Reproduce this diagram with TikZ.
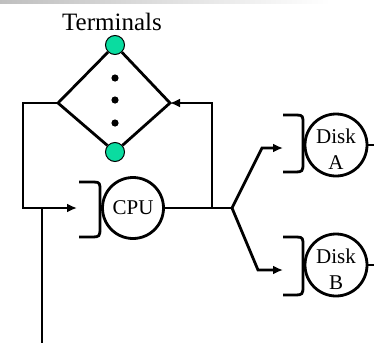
\documentclass[tikz,border=0pt]{standalone}
\usepackage{fontspec}
\setmainfont{Liberation Serif}
\usepackage{tikz}
\usetikzlibrary{arrows.meta}

\definecolor{termgreen}{RGB}{10,220,160}

\begin{document}
\begin{tikzpicture}[x=1pt,y=-1pt,line width=2.8pt,
		>={Latex[length=10pt,width=9pt]},
		term/.style={circle, draw, fill=termgreen, line width=1pt, minimum size=19pt, inner sep=0pt},
		server/.style={circle, draw, minimum size=62pt, inner sep=0pt},
		lbl/.style={font=\fontsize{21}{26}\selectfont, align=center, inner sep=0pt}]
			\useasboundingbox (0,0) rectangle (374,343);
			\shade[left color=black!25, right color=white, draw=none] (0,0) rectangle (330,3);
			% terminals
			\node[font=\fontsize{25}{29}\selectfont, anchor=base] (termtxt) at (112,30) {Terminals};
			\coordinate (dl) at (58,103);
			\coordinate (dr) at (170,103);
			\node[term] (termtop) at (115,45) {};
			\node[term] (termbot) at (115,152) {};
			\draw (termtop) -- (dl) -- (termbot);
			\draw (termtop) -- (dr) -- (termbot);
			\fill (115,78) circle(3.6);
			\fill (115,100) circle(3.6);
			\fill (115,123) circle(3.6);
			% cpu
			\node[server, minimum size=61pt] (cpu) at (133,208) {};
			\node[lbl] (cputxt) at (cpu) {CPU};
			\draw (79,182) -- (94,182) .. controls (100,182) and (100,184) .. (100,190) -- (100,229) .. controls (100,236) and (99,237) .. (93,237) -- (79,237);
			% disks
			\node[server] (diska) at (336,145) {};
			\node[lbl, yshift=-4pt] (diskatxt) at (diska) {Disk\\A};
			\node[server] (diskb) at (336,265) {};
			\node[lbl, yshift=-4pt] (diskbtxt) at (diskb) {Disk\\B};
			\draw (283,115) -- (297,115) .. controls (303,115) and (303,117) .. (303,123) -- (303,164) .. controls (303,171) and (302,172) .. (296,172) -- (283,172);
			\draw (283,237) -- (297,237) .. controls (303,237) and (303,239) .. (303,245) -- (303,287) .. controls (303,294) and (302,295) .. (296,295) -- (283,295);
			% connectors
			\coordinate (split) at (232,208);
			\coordinate (back) at (212,208);
			\coordinate (cpuin) at (77,208);
			\coordinate (enter) at (42,208);
			\coordinate (diskain) at (283,148);
			\coordinate (diskbin) at (283,270);
			\draw (cpu) -- (split);
			\draw[->] (back) -- (212,103) -- (dr);
			\draw[->] (dl) -- (23,103) -- (23,208) -- (cpuin);
			\draw (enter) -- (42,343);
			\draw[->] (split) -- (262,148) -- (diskain);
			\draw[->] (split) -- (258,270) -- (diskbin);
			\draw (diska) -- (374,145);
			\draw (diskb) -- (374,265);
		\end{tikzpicture}
\end{document}
